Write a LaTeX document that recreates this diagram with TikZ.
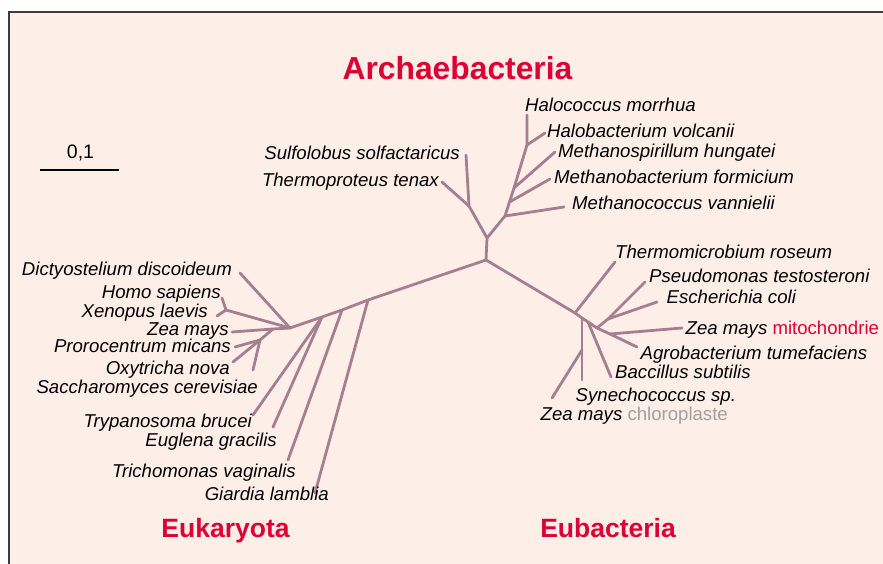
\documentclass[tikz,border=0pt]{standalone}
\usepackage{fontspec}
\setmainfont{Liberation Sans}
\definecolor{bgc}{HTML}{FDEEE7}
\definecolor{brc}{RGB}{166,126,146}
\definecolor{ttlc}{RGB}{222,0,52}
\definecolor{frmc}{RGB}{60,60,60}
\definecolor{chlc}{RGB}{160,160,160}
\begin{document}
\begin{tikzpicture}[x=1pt,y=-1pt,
  br/.style={draw=brc,line width=2.8pt,line cap=round,line join=round},
  lab/.style={font=\fontsize{18.6}{20}\selectfont\itshape,inner sep=0pt},
  labL/.style={lab,anchor=base east},
  labR/.style={lab,anchor=base west},
  ttl/.style={font=\fontsize{26.5}{30}\selectfont\bfseries,text=ttlc,inner sep=0pt,anchor=base}]
\useasboundingbox (0,0) rectangle (883,564);
\fill[bgc] (9,12) rectangle (883,564);
\draw[frmc,line width=1.5pt] (9,564) -- (9,12) -- (883,12);

% titles
\node[ttl,font=\fontsize{31.8}{34}\selectfont\bfseries] (tA) at (457.5,80) {Archaebacteria};
\node[ttl] (tK) at (225.5,537) {Eukaryota};
\node[ttl] (tB) at (608,537) {Eubacteria};

% scale bar
\node[font=\fontsize{19.5}{21}\selectfont,inner sep=0pt,anchor=base] (sc) at (80.5,158.5) {0,1};
\coordinate (s1) at (40,170);
\coordinate (s2) at (119,170);
\draw[black,line width=2pt] (s1) -- (s2);

% internal coordinates
\coordinate (C) at (486,260);
% archaea
\coordinate (A0) at (487,238);
\coordinate (AL) at (469,206);
\coordinate (tSul) at (466,155);
\coordinate (tThp) at (442,182);
\coordinate (AR1) at (505,216);
\coordinate (AR2) at (509.5,202);
\coordinate (AR3) at (514,188);
\coordinate (AR4) at (527,145);
\coordinate (tMcv) at (564,207);
\coordinate (tMbf) at (550,179);
\coordinate (tMsh) at (555,152);
\coordinate (tHbv) at (545,133);
\coordinate (tHcm) at (527,115);
% eukaryota
\coordinate (D1) at (368,300);
\coordinate (D2) at (342,310);
\coordinate (D3) at (322,317);
\coordinate (D4) at (290,328);
\coordinate (HX) at (226,310);
\coordinate (Z0) at (273,329);
\coordinate (Z1) at (260,340);
\coordinate (tGia) at (315,493);
\coordinate (tTri) at (288,460);
\coordinate (tEug) at (273,427);
\coordinate (tTry) at (253,415);
\coordinate (tDic) at (240,273);
\coordinate (tHom) at (222,298);
\coordinate (tXen) at (217,316);
\coordinate (tZea) at (232,332);
\coordinate (tPro) at (235,347);
\coordinate (tOxy) at (233,362);
\coordinate (tSac) at (253,370);
% eubacteria
\coordinate (T1) at (575,313);
\coordinate (E2) at (582,318);
\coordinate (S1) at (582,350);
\coordinate (B1) at (588,322);
\coordinate (E3) at (597,328);
\coordinate (P0) at (608,319);
\coordinate (M0) at (610,334);
\coordinate (tThm) at (615,262);
\coordinate (tSyn) at (582,380);
\coordinate (tChl) at (552,398);
\coordinate (tBac) at (611,377);
\coordinate (tPse) at (645,282);
\coordinate (tEco) at (657,302);
\coordinate (tMit) at (682,328);
\coordinate (tAgr) at (637,347);

% branches
\draw[br] (C) -- (A0) -- (AL) -- (tSul);
\draw[br] (AL) -- (tThp);
\draw[br] (A0) -- (AR1) -- (AR2) -- (AR3) -- (AR4) -- (tHcm);
\draw[br] (AR1) -- (tMcv);
\draw[br] (AR2) -- (tMbf);
\draw[br] (AR3) -- (tMsh);
\draw[br] (AR4) -- (tHbv);

\draw[br] (C) -- (D1) -- (D2) -- (D3) -- (D4);
\draw[br] (D1) -- (tGia);
\draw[br] (D2) -- (tTri);
\draw[br] (D3) -- (tEug);
\draw[br] (D3) -- (tTry);
\draw[br] (D4) -- (tDic);
\draw[br] (D4) -- (HX) -- (tHom);
\draw[br] (HX) -- (tXen);
\draw[br] (D4) -- (Z0) -- (tZea);
\draw[br] (Z0) -- (Z1) -- (tPro);
\draw[br] (Z1) -- (tOxy);
\draw[br] (Z1) -- (tSac);

\draw[br] (C) -- (T1) -- (E2) -- (B1) -- (E3) -- (P0) -- (tPse);
\draw[br] (T1) -- (tThm);
\draw[br] (E2) -- (S1) -- (tSyn);
\draw[br] (S1) -- (tChl);
\draw[br] (B1) -- (tBac);
\draw[br] (P0) -- (tEco);
\draw[br] (E3) -- (M0) -- (tAgr);
\draw[br] (M0) -- (tMit);

% archaea labels
\node[labR] (lHcm) at (525,111.7) {Halococcus morrhua};
\node[labR] (lHbv) at (547,137.3) {Halobacterium volcanii};
\node[labR] (lMsh) at (558,157.3) {Methanospirillum hungatei};
\node[labR] (lMbf) at (554,183.3) {Methanobacterium formicium};
\node[labR] (lMcv) at (572,209.3) {Methanococcus vannielii};
\node[labL] (lSul) at (460,160) {Sulfolobus solfactaricus};
\node[labL] (lThp) at (439,186) {Thermoproteus tenax};

% eukaryota labels
\node[labL] (lDic) at (232,275) {Dictyostelium discoideum};
\node[labL] (lHom) at (221,298.3) {Homo sapiens};
\node[labL] (lXen) at (208,317) {Xenopus laevis};
\node[labL] (lZea) at (229,335) {Zea mays};
\node[labL] (lPro) at (231,352.7) {Prorocentrum micans};
\node[labL] (lOxy) at (230,374) {Oxytricha nova};
\node[labL] (lSac) at (258,393.3) {Saccharomyces cerevisiae};
\node[labL] (lTry) at (252,427.3) {Trypanosoma brucei};
\node[labL] (lEug) at (277,446) {Euglena gracilis};
\node[labL] (lTri) at (296,477.3) {Trichomonas vaginalis};
\node[labL] (lGia) at (329,500) {Giardia lamblia};

% eubacteria labels
\node[labR] (lThm) at (615,258.3) {Thermomicrobium roseum};
\node[labR] (lPse) at (649,282.7) {Pseudomonas testosteroni};
\node[labR] (lEco) at (666.5,303.3) {Escherichia coli};
\node[labR] (lMit) at (685.5,334) {Zea mays \textcolor{ttlc}{\upshape mitochondrie}};
\node[labR] (lAgr) at (640.5,359.3) {Agrobacterium tumefaciens};
\node[labR] (lBac) at (615,378.3) {Baccillus subtilis};
\node[labR] (lSyn) at (575.5,401.7) {Synechococcus sp.};
\node[labR] (lChl) at (540.5,420) {Zea mays \textcolor{chlc}{\upshape chloroplaste}};
\end{tikzpicture}
\end{document}
